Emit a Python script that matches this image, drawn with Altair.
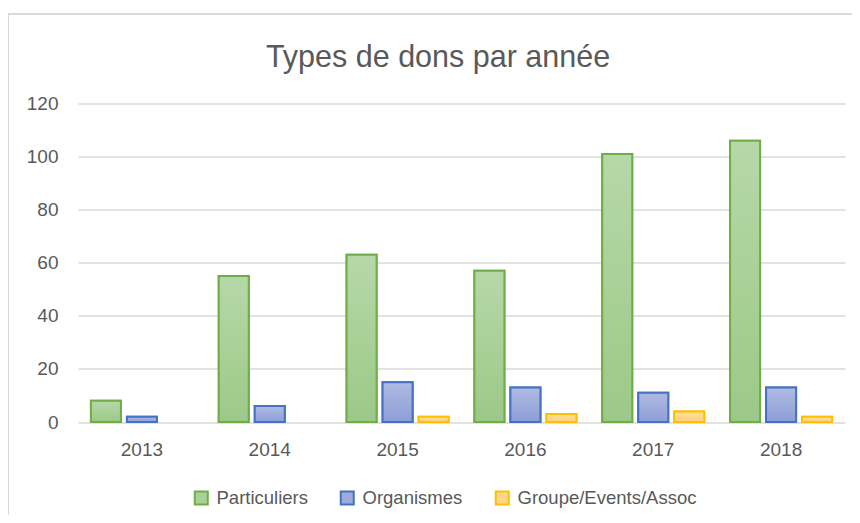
import altair as alt
import pandas as pd

years = ["2013", "2014", "2015", "2016", "2017", "2018"]
series = ["Particuliers", "Organismes", "Groupe/Events/Assoc"]
particuliers = [8, 55, 63, 57, 101, 106]
organismes = [2, 6, 15, 13, 11, 13]
groupes = [0, 0, 2, 3, 4, 2]
y_ticks = [0, 20, 40, 60, 80, 100, 120]

values = {"Particuliers": particuliers, "Organismes": organismes, "Groupe/Events/Assoc": groupes}
rows = []
for s in series:
    for yr, v in zip(years, values[s]):
        rows.append({"year": yr, "series": s, "value": v})
df = pd.DataFrame(rows)

stroke_cols = ["#70ad47", "#4472c4", "#ffc000"]
solid_cols = ["#a9d197", "#9eacdd", "#ffd68a"]
grads = [
    ("#b6d8a8", "#9cc987"),
    ("#b0bbe3", "#8c9ed7"),
    ("#ffe09e", "#ffd079"),
]
FONT = "Liberation Sans"
GRAY = "#595959"

x_enc = alt.X("year:N", sort=years, title=None,
              scale=alt.Scale(paddingInner=0.202, paddingOuter=0.101),
              axis=alt.Axis(labelAngle=0, labelFontSize=19, labelColor=GRAY, labelFont=FONT,
                            ticks=False, domain=False, labelPadding=18, grid=False))
xo_enc = alt.XOffset("series:N", sort=series,
                     scale=alt.Scale(domain=series, paddingInner=0.1667, paddingOuter=0))
y_enc = alt.Y("value:Q", title=None,
              scale=alt.Scale(domain=[0, 120], nice=False),
              axis=alt.Axis(values=y_ticks, labelFontSize=19, labelColor=GRAY, labelFont=FONT,
                            ticks=False, domain=False, labelPadding=20,
                            gridColor="#d9d9d9", gridWidth=1.5))

base = alt.Chart(df).encode(x=x_enc, xOffset=xo_enc, y=y_enc).transform_filter(
    alt.datum.value > 0)

leg = dict(title=None, orient="none", direction="horizontal",
           legendX=114, legendY=385,
           symbolType="square", symbolSize=169, symbolStrokeWidth=2,
           labelFontSize=18.5, labelColor=GRAY, labelFont=FONT, labelLimit=400,
           labelOffset=6, columnPadding=28, padding=0)

legend_layer = base.mark_bar(strokeWidth=2).encode(
    fill=alt.Fill("series:N", sort=series,
                  scale=alt.Scale(domain=series, range=solid_cols),
                  legend=alt.Legend(**leg)),
    stroke=alt.Stroke("series:N", sort=series,
                      scale=alt.Scale(domain=series, range=stroke_cols),
                      legend=alt.Legend(**leg)),
)

grad_layers = []
for s, sc, (top, bot) in zip(series, stroke_cols, grads):
    g = alt.Gradient(gradient="linear",
                     stops=[alt.GradientStop(color=top, offset=0),
                            alt.GradientStop(color=bot, offset=1)],
                     x1=0, x2=0, y1=0, y2=1)
    grad_layers.append(
        base.transform_filter(alt.datum.series == s)
        .mark_bar(fill=g, stroke=sc, strokeWidth=2)
    )

frame = alt.Chart(df).mark_rect(fill=None, stroke="#d9d9d9", strokeWidth=1.2).encode(
    x=alt.value(-70), x2=alt.value(800), y=alt.value(-89.5), y2=alt.value(460)
)

chart = alt.layer(frame, legend_layer, *grad_layers).properties(
    width=767, height=318.5,
    autosize=alt.AutoSizeParams(type="none"),
    padding={"left": 70, "top": 95.5, "right": 7, "bottom": 93},
    background="white",
    title=alt.TitleParams("Types de dons par année", fontSize=30.5, font=FONT,
                          color=GRAY, fontWeight="normal", anchor="middle",
                          frame="group", dx=-23.5, baseline="alphabetic", offset=-84),
).configure_view(stroke=None)

chart.save("out.html", embed_options={"renderer": "svg", "actions": False})
